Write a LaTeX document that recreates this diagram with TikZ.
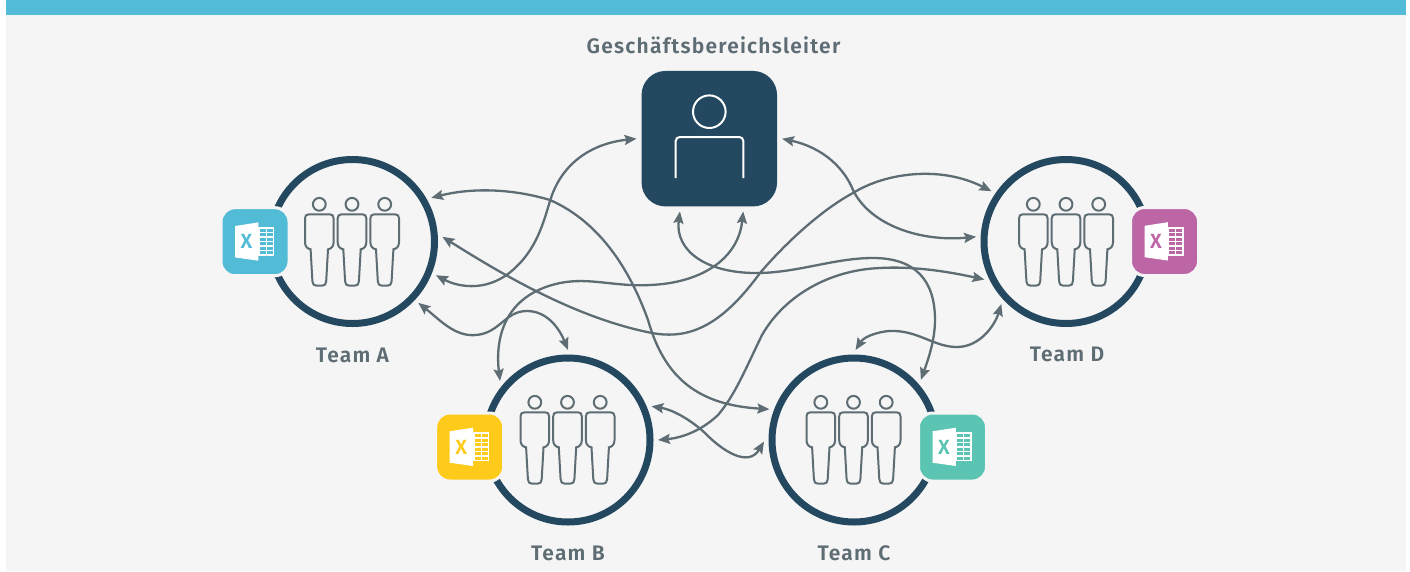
\documentclass[tikz,border=0pt]{standalone}
\usepackage{fontspec}
\setmainfont{Fira Sans}[BoldFont={Fira Sans SemiBold},LetterSpace=5.8]
\usepackage{tikz}
\usetikzlibrary{arrows.meta,positioning}

\definecolor{bandblue}{HTML}{52BBD6}
\definecolor{paper}{HTML}{F5F5F5}
\definecolor{navy}{HTML}{234860}
\definecolor{slate}{HTML}{5E6C74}
\definecolor{xlsblue}{HTML}{52BBD6}
\definecolor{xlsyellow}{HTML}{FFCB1B}
\definecolor{xlsgreen}{HTML}{5BC4B3}
\definecolor{xlspurple}{HTML}{BD66A6}

\tikzset{
    person/.pic={
        \draw[slate, line width=2pt] (0,0) circle (6.4);
        \draw[slate, line width=2pt]
            (-6.9,77) -- (-8.7,45) .. controls (-12,44.5) and (-14.3,42) .. (-14.3,38)
            -- (-14.3,14) .. controls (-14.3,11.5) and (-13,10) .. (-10.5,10) -- (10.5,10)
            .. controls (13,10) and (14.3,11.5) .. (14.3,14) -- (14.3,38)
            .. controls (14.3,42) and (12,44.5) .. (8.7,45) -- (6.9,77)
            .. controls (6.6,80) and (5.5,81.3) .. (3,81.3) -- (-3,81.3)
            .. controls (-5.5,81.3) and (-6.6,80) .. (-6.9,77) -- cycle;
    },
    trio/.pic={
        \pic at (-32.7,0) {person};
        \pic at (0,0) {person};
        \pic at (32.7,0) {person};
    },
    xlsmark/.pic={
        \fill[white] (-20,-15.7) -- (3.3,-19.3) -- (3.3,19) -- (-20,15.7) -- cycle;
        \fill[white] (3.3,-15) rectangle (19.3,14.3);
        \foreach \row in {0,1,2,3,4,5} {
            \fill[xlscolor] (4.8,-13+\row*4.5) rectangle (10.8,-10+\row*4.5);
            \fill[xlscolor] (11.8,-13+\row*4.5) rectangle (17.8,-10+\row*4.5);
        }
        \node (-letter) [xlscolor, font=\bfseries\fontsize{20.5}{20.5}\selectfont, inner sep=0] at (-8.6,0) {X};
    }
}

\begin{document}
\begin{tikzpicture}[
        x=1pt,
        y=-1pt,
        >={Stealth[length=12pt,width=10pt,inset=2pt]},
        team/.style={draw=navy, circle, line width=7pt, minimum size=164pt, inner sep=0pt, outer sep=8pt},
        lead/.style={fill=navy, rectangle, rounded corners=24pt, minimum size=135.5pt, inner sep=0pt, outer sep=5pt},
        xlsbox/.style={draw=paper, line width=3pt, rectangle, rounded corners=14pt, minimum size=68pt, inner sep=0pt},
        caption/.style={slate, font=\bfseries\fontsize{21}{21}\selectfont, inner sep=0pt},
        link/.style={<->, slate, line width=2.3pt}
    ]
        \useasboundingbox (0,0) rectangle (1410,571);

        % Background
        \fill[paper] (5.5,0) rectangle (1405.5,571);
        \fill[bandblue] (5.5,0) rectangle (1405.5,14.7);

        % Nodes
        \node (lead) [lead] at (709.3,138.7) {};
        \node (teamA) [team] at (352.5,241.5) {};
        \node (teamB) [team] at (568,440) {};
        \node (teamC) [team] at (854,440) {};
        \node (teamD) [team] at (1066,241.5) {};

        % Labels
        \node (leadlabel) [caption] at (713.5,45) {Geschäftsbereichsleiter};
        \node (labelA) [caption] at (352.5,355) {Team A};
        \node (labelB) [caption] at (568,553) {Team B};
        \node (labelC) [caption] at (854,553) {Team C};
        \node (labelD) [caption] at (1067,354) {Team D};

        % Lead figure
        \draw[white, line width=2pt] (709.3,111.7) circle (16.3);
        \draw[white, line width=2pt, rounded corners=4pt] (675.7,178) -- (675.7,137) -- (743.3,137) -- (743.3,178);

        % Teams
        \pic at (352,204.3) {trio};
        \pic at (567.5,402.3) {trio};
        \pic at (853.5,402.3) {trio};
        \pic at (1066,204.3) {trio};

        % Spreadsheets
        \colorlet{xlscolor}{xlsblue}
        \node (xlsA) [xlsbox, fill=xlscolor] at (255,241.7) {};
        \pic (markA) at (255,241.7) {xlsmark};
        \colorlet{xlscolor}{xlsyellow}
        \node (xlsB) [xlsbox, fill=xlscolor] at (469.7,447) {};
        \pic (markB) at (469.7,447) {xlsmark};
        \colorlet{xlscolor}{xlsgreen}
        \node (xlsC) [xlsbox, fill=xlscolor] at (952.5,447) {};
        \pic (markC) at (952.5,447) {xlsmark};
        \colorlet{xlscolor}{xlspurple}
        \node (xlsD) [xlsbox, fill=xlscolor] at (1164.5,241.5) {};
        \pic (markD) at (1164.5,241.5) {xlsmark};

        % Connections
        \draw[link] (teamA.-22.8) .. controls (460,288) and (490,292) .. (515,268)
            .. controls (540,245) and (545,215) .. (552,195)
            .. controls (565,160) and (595,143) .. (lead.west);
        \draw[link] (teamA.29.2) .. controls (470,188) and (510,188) .. (550,200)
            .. controls (600,222) and (630,270) .. (648,320)
            .. controls (665,380) and (700,405) .. (teamC.160.2);
        \draw[link] (teamA.3.5) .. controls (500,273) and (575,318) .. (652,333)
            .. controls (690,340) and (722,325) .. (760,273)
            .. controls (790,238) and (825,208) .. (853,193)
            .. controls (885,173) and (940,165) .. (teamD.146.9);
        \draw[link] (teamA.-43.7) .. controls (440,320) and (455,337) .. (476,335)
            .. controls (500,333) and (505,311) .. (527,311)
            .. controls (548,311) and (560,330) .. (teamB.90.6);
        \draw[link] (teamB.139) .. controls (495,340) and (503,295) .. (560,283)
            .. controls (590,277) and (615,287) .. (650,285)
            .. controls (700,283) and (738,260) .. (lead.295);
        \draw[link] (lead.248.6) .. controls (675,250) and (705,274) .. (760,273)
            .. controls (800,272) and (835,258) .. (873,258)
            .. controls (915,258) and (935,280) .. (935,320)
            .. controls (935,340) and (928,360) .. (teamC.42.4);
        \draw[link] (lead.east) .. controls (825,148) and (845,170) .. (853,190)
            .. controls (870,225) and (920,242) .. (teamD.177.1);
        \draw[link] (teamD.205.4) .. controls (950,272) and (915,266) .. (880,268)
            .. controls (830,270) and (785,295) .. (762,335)
            .. controls (745,370) and (735,395) .. (718,415)
            .. controls (700,432) and (680,438) .. (teamB.-0.6);
        \draw[link] (teamB.22.9) .. controls (675,410) and (695,423) .. (707,435)
            .. controls (722,450) and (748,468) .. (teamC.181.3);
        \draw[link] (teamC.89.4) .. controls (865,335) and (885,330) .. (895,331)
            .. controls (920,332) and (935,347) .. (957,347)
            .. controls (980,347) and (995,325) .. (teamD.224.8);

    \end{tikzpicture}
\end{document}
